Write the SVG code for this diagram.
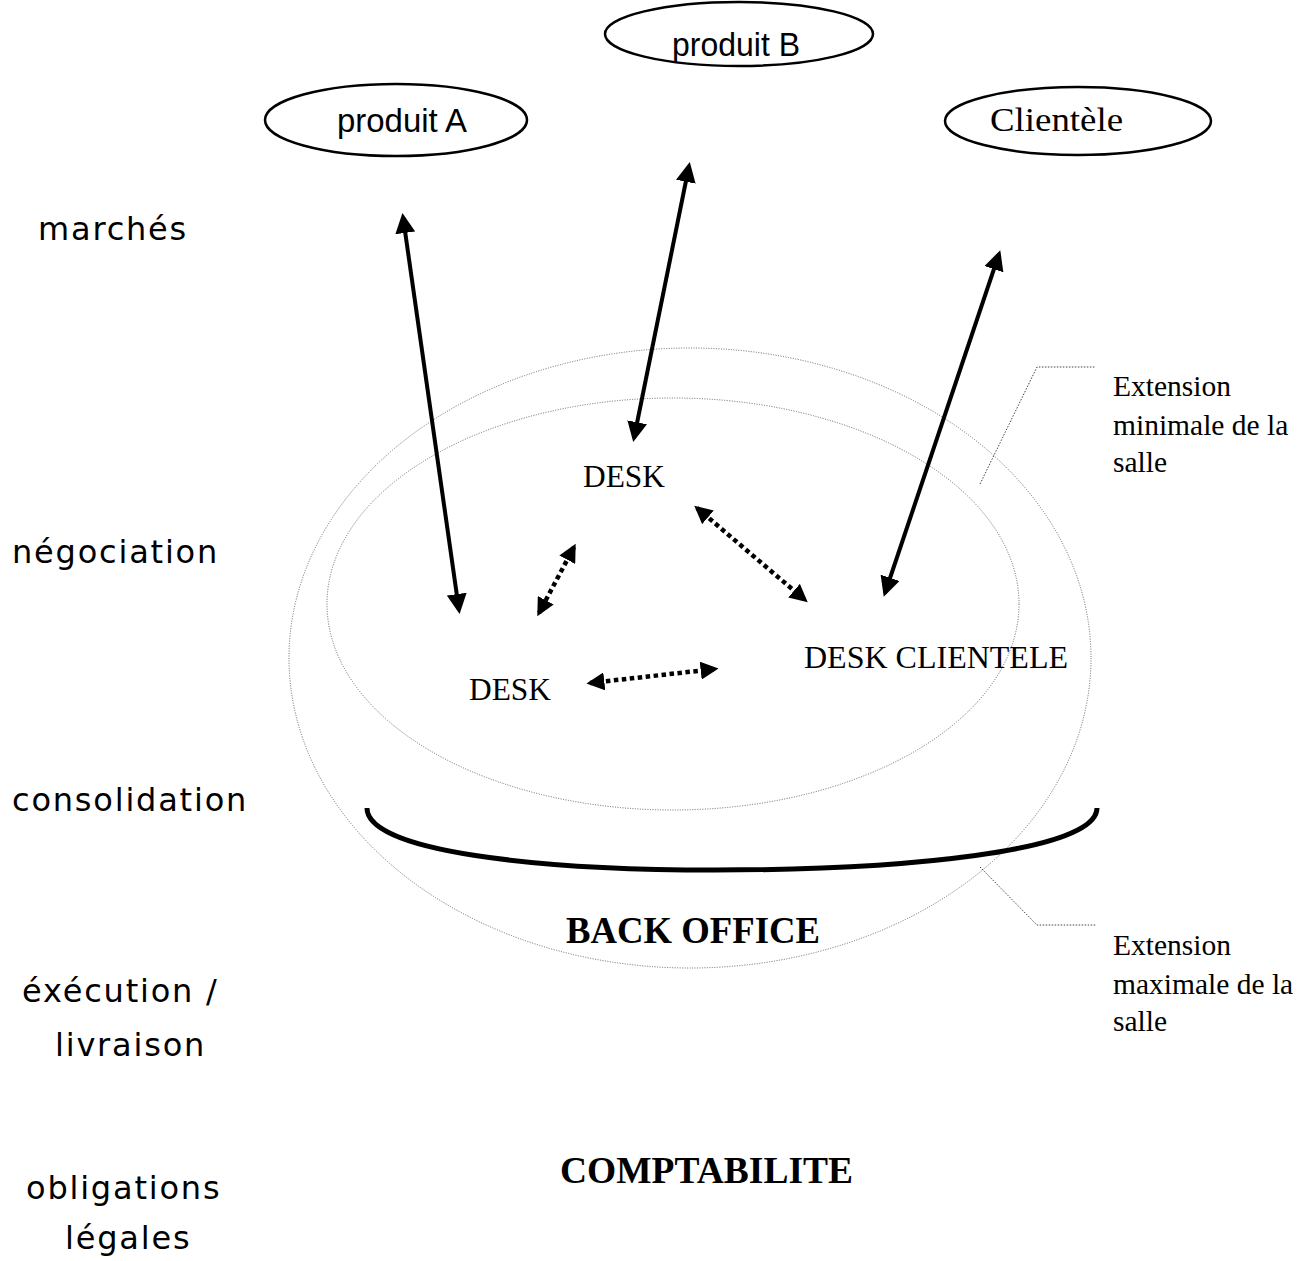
<svg xmlns="http://www.w3.org/2000/svg" width="1302" height="1261" viewBox="0 0 1302 1261">
<style>
.lvl{font-family:"DejaVu Sans",Verdana,sans-serif;font-size:32px;letter-spacing:1.8px;fill:#000}
.ser{font-family:"Liberation Serif","Times New Roman",serif;font-size:32px;fill:#000}
.note{font-family:"Liberation Serif","Times New Roman",serif;font-size:29.5px;fill:#000}
.bold{font-family:"Liberation Serif","Times New Roman",serif;font-size:37px;font-weight:bold;fill:#000}
.sans{font-family:"Liberation Sans",Arial,sans-serif;font-size:34px;fill:#000}
.node{fill:#fff;stroke:#000;stroke-width:2.5}
.zone{fill:none;stroke:#666;stroke-width:1;stroke-dasharray:1 1.5}
.lead{fill:none;stroke:#444;stroke-width:1;stroke-dasharray:1.5 1.5}
.solid{stroke:#000;stroke-width:4;fill:none;marker-start:url(#ah);marker-end:url(#ah)}
.dots{stroke:#000;stroke-width:4.5;fill:none;stroke-dasharray:4.5 3.5;marker-start:url(#ah2);marker-end:url(#ah2)}
</style>
<defs>
<marker id="ah" viewBox="0 0 10 10" refX="8" refY="5" markerWidth="5" markerHeight="5" markerUnits="strokeWidth" orient="auto-start-reverse"><path d="M0,0 L10,5 L0,10 Z" fill="#000"/></marker>
<marker id="ah2" viewBox="0 0 10 10" refX="8" refY="5" markerWidth="4" markerHeight="4" markerUnits="strokeWidth" orient="auto-start-reverse"><path d="M0,0 L10,5 L0,10 Z" fill="#000"/></marker>
</defs>
<rect width="1302" height="1261" fill="#fff"/>

<g id="levels">
<text class="lvl" x="38" y="240">marchés</text>
<text class="lvl" x="12" y="563">négociation</text>
<text class="lvl" x="12" y="811">consolidation</text>
<text class="lvl" x="22" y="1002">éxécution /</text>
<text class="lvl" x="55" y="1056">livraison</text>
<text class="lvl" x="26" y="1199">obligations</text>
<text class="lvl" x="65" y="1249">légales</text>
</g>

<g id="zone-max"><ellipse class="zone" cx="690" cy="658" rx="401" ry="310"/></g>
<g id="zone-min"><ellipse class="zone" cx="673" cy="604" rx="346" ry="206"/></g>

<g id="produitA"><ellipse class="node" cx="396" cy="120" rx="131" ry="36"/><text class="sans" x="337" y="132" textLength="130" lengthAdjust="spacingAndGlyphs">produit A</text></g>
<g id="produitB"><ellipse class="node" cx="739" cy="34" rx="134" ry="32"/><text class="sans" x="672" y="56" textLength="128" lengthAdjust="spacingAndGlyphs">produit B</text></g>
<g id="clientele"><ellipse class="node" cx="1078" cy="121" rx="133" ry="34"/><text class="ser" x="990" y="131" textLength="133" lengthAdjust="spacingAndGlyphs" style="font-size:33px">Clientèle</text></g>

<g id="deskB"><text class="ser" x="583" y="487" textLength="82" lengthAdjust="spacingAndGlyphs">DESK</text></g>
<g id="deskA"><text class="ser" x="469" y="700" textLength="82" lengthAdjust="spacingAndGlyphs">DESK</text></g>
<g id="deskClient"><text class="ser" x="804" y="668" textLength="264" lengthAdjust="spacingAndGlyphs">DESK CLIENTELE</text></g>
<g id="backoffice"><text class="bold" x="566" y="943" textLength="254" lengthAdjust="spacingAndGlyphs">BACK OFFICE</text></g>
<g id="compta"><text class="bold" x="560" y="1183" textLength="293" lengthAdjust="spacingAndGlyphs">COMPTABILITE</text></g>

<g id="notes">
<text class="note" x="1113" y="396">Extension</text>
<text class="note" x="1113" y="435">minimale de la</text>
<text class="note" x="1113" y="472">salle</text>
<text class="note" x="1113" y="955">Extension</text>
<text class="note" x="1113" y="994">maximale de la</text>
<text class="note" x="1113" y="1031">salle</text>
</g>

<g id="connectors">
<path d="M367,808 C367,852 540,870 715,870 C900,870 1097,852 1097,808" fill="none" stroke="#000" stroke-width="5"/>
<polyline class="lead" points="980,484 1037,367 1095,367"/>
<polyline class="lead" points="980,867 1037,925 1096,925"/>
<line class="solid" x1="403" y1="217" x2="459" y2="610"/>
<line class="solid" x1="689" y1="166" x2="634" y2="438"/>
<line class="solid" x1="999" y1="254" x2="885" y2="593"/>
<line class="dots" x1="574" y1="547" x2="539" y2="613"/>
<line class="dots" x1="697" y1="508" x2="805" y2="600"/>
<line class="dots" x1="590" y1="683" x2="715" y2="669"/>
</g>
</svg>
